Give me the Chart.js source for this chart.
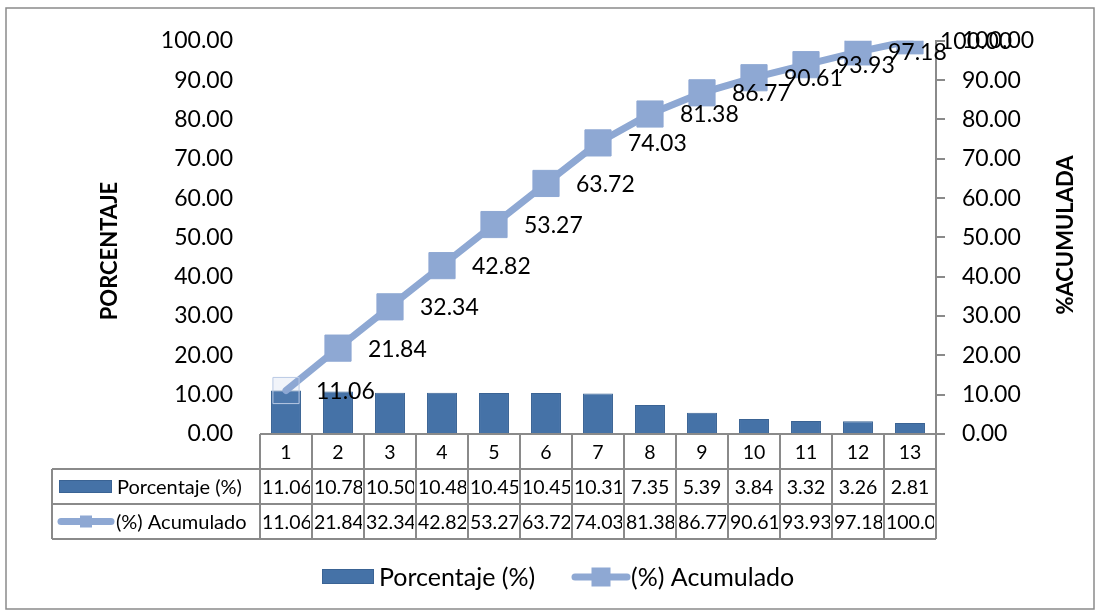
<!DOCTYPE html>
<html>
<head>
<meta charset="utf-8">
<script src="https://cdn.jsdelivr.net/npm/chart.js@4.4.1/dist/chart.umd.min.js"></script>
<style>
  html, body { margin: 0; padding: 0; background: #fff; }
  #wrap { width: 1101px; height: 614px; }
</style>
</head>
<body>
<div id="wrap"><canvas id="pareto"></canvas></div>
<script>
const categories = ['1', '2', '3', '4', '5', '6', '7', '8', '9', '10', '11', '12', '13'];
const porcentaje = [11.06, 10.78, 10.50, 10.48, 10.45, 10.45, 10.31, 7.35, 5.39, 3.84, 3.32, 3.26, 2.81];
const acumulado = [11.06, 21.84, 32.34, 42.82, 53.27, 63.72, 74.03, 81.38, 86.77, 90.61, 93.93, 97.18, 100.00];
const seriesNames = ['Porcentaje (%)', '(%) Acumulado'];
const axisTitles = ['PORCENTAJE', '%ACUMULADA'];

const FONT = 'Lato, Calibri, sans-serif';
const BAR_COLOR = '#4572A7';
const BAR_EDGE = '#3A6394';
const LINE_COLOR = '#8EA8D3';
const GREY = '#8A8A8A';

// first marker is drawn hollow in the original
const markerFill = acumulado.map((v, i) => i === 0 ? 'rgba(142,168,211,0.12)' : LINE_COLOR);
const markerEdge = acumulado.map((v, i) => i === 0 ? '#B9C9E4' : LINE_COLOR);

const fmt = v => v.toFixed(2);

const extras = {
  id: 'extras',
  beforeDraw(chart) {
    const ctx = chart.ctx;
    ctx.save();
    ctx.fillStyle = '#fff';
    ctx.fillRect(0, 0, chart.width, chart.height);
    ctx.strokeStyle = GREY;
    ctx.lineWidth = 1.5;
    ctx.strokeRect(6, 8, 1088, 601);
    ctx.restore();
  },
  afterDatasetsDraw(chart) {
    // data labels to the right of each cumulative point
    const ctx = chart.ctx;
    const meta = chart.getDatasetMeta(1);
    ctx.save();
    ctx.font = '23px ' + FONT;
    ctx.fillStyle = '#000';
    ctx.textAlign = 'left';
    ctx.textBaseline = 'middle';
    meta.data.forEach((pt, i) => {
      ctx.fillText(fmt(acumulado[i]), pt.x + 30, pt.y + 1);
    });
    ctx.restore();
  },
  afterDraw(chart) {
    const ctx = chart.ctx;
    const x = chart.scales.x;
    const area = chart.chartArea;
    const n = categories.length;
    const half = (x.getPixelForValue(1) - x.getPixelForValue(0)) / 2;
    const left = x.getPixelForValue(0) - half;
    const right = x.getPixelForValue(n - 1) + half;
    const legLeft = 52;
    const rowH = 35;
    const top = area.bottom;

    ctx.save();
    ctx.strokeStyle = GREY;
    ctx.lineWidth = 2;
    ctx.beginPath();
    // horizontal lines
    ctx.moveTo(left, top); ctx.lineTo(right, top);
    for (let r = 1; r <= 3; r++) {
      ctx.moveTo(legLeft, top + r * rowH); ctx.lineTo(right, top + r * rowH);
    }
    // vertical lines
    ctx.moveTo(legLeft, top + rowH); ctx.lineTo(legLeft, top + 3 * rowH);
    for (let i = 0; i <= n; i++) {
      const cx = left + i * 2 * half;
      ctx.moveTo(cx, top); ctx.lineTo(cx, top + 3 * rowH);
    }
    ctx.stroke();

    // cell text
    ctx.fillStyle = '#000';
    ctx.textBaseline = 'middle';
    ctx.font = '19.5px ' + FONT;
    const rows = [categories, porcentaje.map(fmt), acumulado.map(fmt)];
    rows.forEach((row, r) => {
      const cy = top + r * rowH + rowH / 2 + 1;
      row.forEach((txt, i) => {
        const cl = left + i * 2 * half;
        const w = ctx.measureText(txt).width;
        ctx.save();
        ctx.beginPath();
        ctx.rect(cl + 1, top + r * rowH, 2 * half - 3, rowH);
        ctx.clip();
        if (w > 2 * half - 4) {
          ctx.textAlign = 'left';
          ctx.fillText(txt, cl + 2, cy);
        } else {
          ctx.textAlign = 'center';
          ctx.fillText(txt, cl + half, cy);
        }
        ctx.restore();
      });
    });

    // legend keys inside table
    const keyBar = (kx, ky, w, h) => {
      ctx.fillStyle = BAR_COLOR;
      ctx.fillRect(kx, ky, w, h);
      ctx.strokeStyle = BAR_EDGE;
      ctx.lineWidth = 1;
      ctx.strokeRect(kx + 0.5, ky + 0.5, w - 1, h - 1);
    };
    const keyLine = (kx, ky, w, m) => {
      ctx.strokeStyle = LINE_COLOR;
      ctx.lineWidth = 7;
      ctx.lineCap = 'round';
      ctx.beginPath();
      ctx.moveTo(kx + 4, ky); ctx.lineTo(kx + w - 4, ky);
      ctx.stroke();
      ctx.fillStyle = LINE_COLOR;
      ctx.fillRect(kx + w / 2 - m / 2, ky - m / 2, m, m);
    };
    ctx.textAlign = 'left';
    ctx.font = '20px ' + FONT;
    keyBar(59, top + rowH + 11, 53, 13);
    ctx.fillStyle = '#000';
    ctx.fillText(seriesNames[0], 117, top + rowH + rowH / 2 + 1);
    keyLine(57, top + 2 * rowH + rowH / 2, 58, 12);
    ctx.fillStyle = '#000';
    ctx.fillText(seriesNames[1], 116, top + 2 * rowH + rowH / 2 + 1);

    // bottom legend
    ctx.font = '25px ' + FONT;
    keyBar(322, 569, 52, 15);
    ctx.fillStyle = '#000';
    ctx.fillText(seriesNames[0], 379, 578);
    keyLine(571, 577, 60, 19);
    ctx.fillStyle = '#000';
    ctx.fillText(seriesNames[1], 631, 578);

    // axis titles, both read bottom to top
    ctx.font = 'bold 22px ' + FONT;
    ctx.textAlign = 'center';
    ctx.save();
    ctx.translate(110, 251);
    ctx.rotate(-Math.PI / 2);
    ctx.fillText(axisTitles[0], 0, 0);
    ctx.restore();
    ctx.save();
    ctx.translate(1066, 235);
    ctx.rotate(-Math.PI / 2);
    ctx.fillText(axisTitles[1], 0, 0);
    ctx.restore();
    ctx.restore();
  }
};

new Chart(document.getElementById('pareto'), {
  type: 'bar',
  data: {
    labels: categories,
    datasets: [
      {
        type: 'bar',
        label: seriesNames[0],
        data: porcentaje,
        yAxisID: 'y',
        backgroundColor: BAR_COLOR,
        borderColor: BAR_EDGE,
        borderWidth: 1,
        categoryPercentage: 0.8,
        barPercentage: 0.72,
        order: 2
      },
      {
        type: 'line',
        label: seriesNames[1],
        data: acumulado,
        yAxisID: 'y1',
        borderColor: LINE_COLOR,
        borderWidth: 7,
        borderCapStyle: 'round',
        pointStyle: 'rect',
        pointRadius: 18.5,
        pointBackgroundColor: markerFill,
        pointBorderColor: markerEdge,
        pointBorderWidth: 1,
        tension: 0,
        order: 1
      }
    ]
  },
  options: {
    responsive: true,
    maintainAspectRatio: false,
    animation: false,
    layout: { padding: { left: 0, right: 0, top: 37, bottom: 180 } },
    plugins: {
      legend: { display: false },
      tooltip: { enabled: false }
    },
    scales: {
      x: { display: false, offset: true },
      y: {
        position: 'left',
        min: 0,
        max: 100,
        afterFit: s => { s.width = 260; },
        ticks: {
          stepSize: 10,
          padding: 27,
          color: '#000',
          font: { family: FONT, size: 23 },
          callback: v => fmt(v)
        },
        grid: { display: false, drawTicks: false },
        border: { display: false }
      },
      y1: {
        position: 'right',
        min: 0,
        max: 100,
        afterFit: s => { s.width = 165; },
        ticks: {
          stepSize: 10,
          padding: 17,
          color: '#000',
          font: { family: FONT, size: 23 },
          callback: v => fmt(v)
        },
        grid: { drawOnChartArea: false, color: GREY, lineWidth: 2, tickLength: 9 },
        border: { display: true, color: GREY, width: 2 }
      }
    }
  },
  plugins: [extras]
});
</script>
</body>
</html>
